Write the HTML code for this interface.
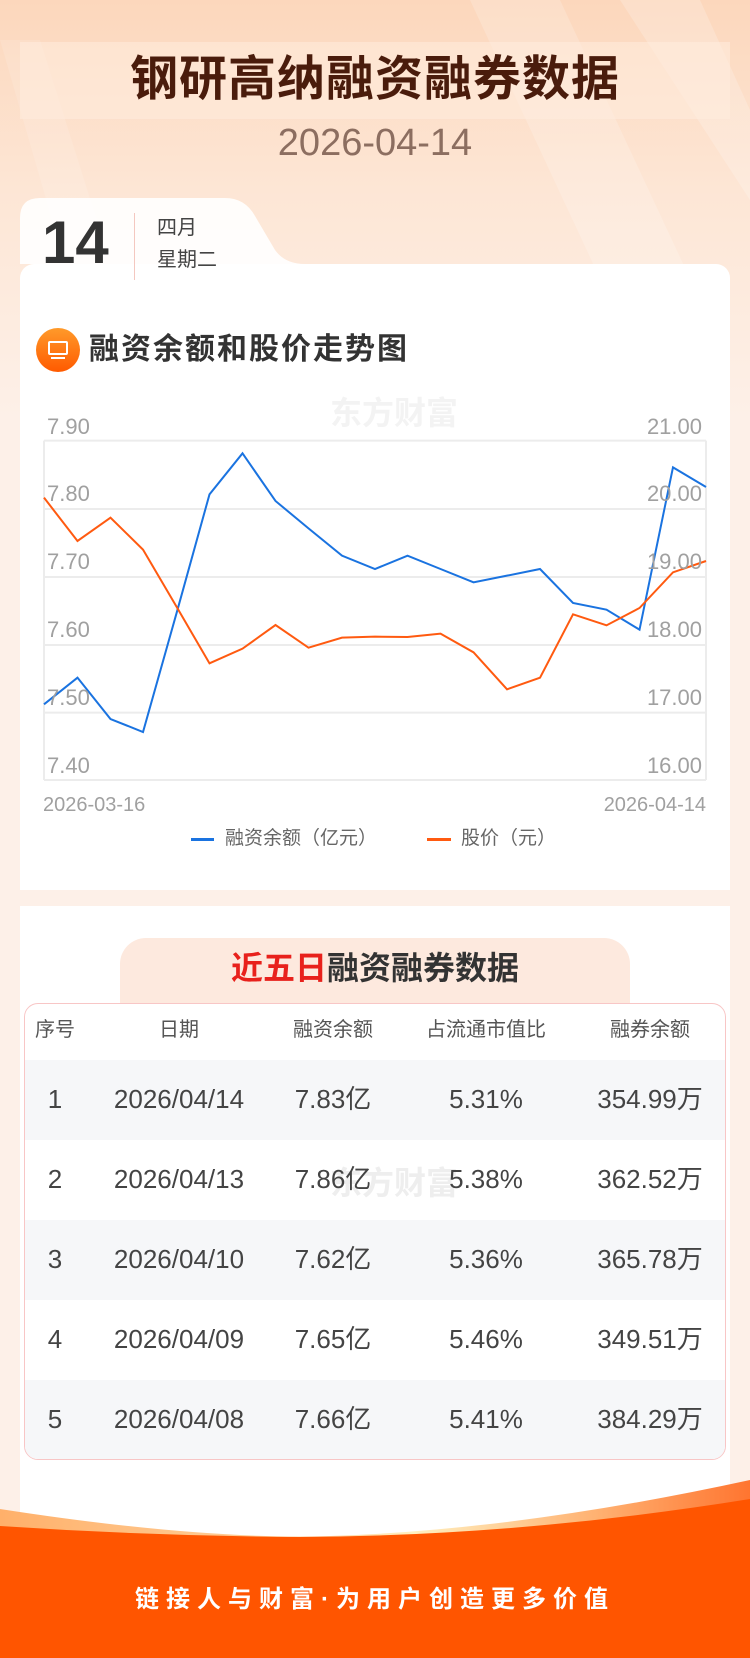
<!DOCTYPE html>
<html><head><meta charset="utf-8">
<style>
*{margin:0;padding:0;box-sizing:border-box}
body{width:750px;height:1658px;position:relative;overflow:hidden;font-family:"Liberation Sans","Noto Sans CJK SC",sans-serif;background:#fdf0e8}
.abs{position:absolute}
.lbl{position:absolute;font-size:22px;color:#a0a0a0;line-height:24px}
.cell{position:absolute;text-align:center;line-height:80px;font-size:26px;color:#444}
</style></head><body>
<div class="abs" style="left:0;top:0;width:750px;height:420px;background:linear-gradient(180deg,#fcd7bc 0%,#fde6d5 45%,#fdf0e8 100%)"></div>
<svg class="abs" style="left:0;top:0" width="750" height="420">
<polygon points="0,40 40,40 160,420 110,420" fill="#fff" opacity="0.12"/>
<polygon points="470,0 560,0 700,300 610,300" fill="#fff" opacity="0.18"/>
<polygon points="620,0 700,0 750,110 750,200" fill="#fff" opacity="0.2"/>
</svg>
<div class="abs" style="left:20px;top:42px;width:710px;height:77px;background:rgba(255,236,222,0.55)"></div>
<div class="abs" style="left:0;top:51px;width:750px;text-align:center;font-size:48px;font-weight:bold;color:#4a1c0c;line-height:58px;letter-spacing:1px">钢研高纳融资融券数据</div>
<div class="abs" style="left:0;top:121px;width:750px;text-align:center;font-size:38px;color:#8c6e60;line-height:44px">2026-04-14</div>
<svg class="abs" style="left:20px;top:198px" width="710" height="70">
<path d="M0,66 L0,20 Q0,0 20,0 L205,0 Q225,0 235,18 L255,52 Q265,66 285,66 Z" fill="#fff" opacity="0.9"/>
</svg>
<div class="abs" style="left:20px;top:264px;width:710px;height:626px;background:#fff;border-radius:14px 14px 0 0"></div>
<div class="abs" style="left:42px;top:210px;font-size:60px;font-weight:bold;color:#333;line-height:66px">14</div>
<div class="abs" style="left:134px;top:213px;width:1px;height:67px;background:#f4c8c0"></div>
<div class="abs" style="left:157px;top:216px;font-size:20px;color:#444;line-height:24px">四月</div>
<div class="abs" style="left:157px;top:248px;font-size:20px;color:#444;line-height:24px">星期二</div>
<div class="abs" style="left:36px;top:328px;width:44px;height:44px;border-radius:50%;background:linear-gradient(180deg,#ff9a2a,#ff5a00)"></div>
<div class="abs" style="left:48px;top:341px;width:20px;height:14px;border:2px solid #fff;border-radius:2px"></div>
<div class="abs" style="left:51px;top:357px;width:14px;height:2px;background:#fff"></div>
<div class="abs" style="left:89px;top:331px;font-size:30px;font-weight:bold;color:#333;line-height:38px;letter-spacing:2px">融资余额和股价走势图</div>
<div class="abs" style="left:330px;top:395px;font-size:32px;font-weight:bold;color:#f3f3f3;line-height:36px">东方财富</div>
<svg class="abs" style="left:0;top:380px" width="750" height="480" viewBox="0 0 1568 1440" preserveAspectRatio="none">
<g stroke="#ececec" stroke-width="2" fill="none">
<line x1="92" y1="182" x2="1476" y2="182" vector-effect="non-scaling-stroke"/>
<line x1="92" y1="387" x2="1476" y2="387" vector-effect="non-scaling-stroke"/>
<line x1="92" y1="591" x2="1476" y2="591" vector-effect="non-scaling-stroke"/>
<line x1="92" y1="795" x2="1476" y2="795" vector-effect="non-scaling-stroke"/>
<line x1="92" y1="998" x2="1476" y2="998" vector-effect="non-scaling-stroke"/>
<line x1="92" y1="1200" x2="1476" y2="1200" vector-effect="non-scaling-stroke"/>
<line x1="92" y1="182" x2="92" y2="1200" vector-effect="non-scaling-stroke"/>
<line x1="1476" y1="182" x2="1476" y2="1200" vector-effect="non-scaling-stroke"/>
</g>
<polyline fill="none" stroke="#1a73e0" stroke-width="2" vector-effect="non-scaling-stroke" points="92,973 162,893 231,1017 299,1056 369,700 438,343 507,220 576,363 645,445 715,527 784,567 852,527 921,567 990,607 1060,587 1129,567 1198,669 1268,689 1337,749 1407,262 1476,321"/>
<polyline fill="none" stroke="#ff5a10" stroke-width="2" vector-effect="non-scaling-stroke" points="92,353 162,483 231,413 299,509 369,680 438,850 507,806 576,735 645,803 715,773 784,770 852,771 921,761 990,817 1060,928 1129,893 1198,703 1268,736 1337,684 1407,577 1476,543"/>
</svg>
<div class="lbl" style="left:47px;top:415px">7.90</div>
<div class="lbl" style="left:47px;top:482px">7.80</div>
<div class="lbl" style="left:47px;top:550px">7.70</div>
<div class="lbl" style="left:47px;top:618px">7.60</div>
<div class="lbl" style="left:47px;top:686px">7.50</div>
<div class="lbl" style="left:47px;top:754px">7.40</div>
<div class="lbl" style="left:602px;width:100px;text-align:right;top:415px">21.00</div>
<div class="lbl" style="left:602px;width:100px;text-align:right;top:482px">20.00</div>
<div class="lbl" style="left:602px;width:100px;text-align:right;top:550px">19.00</div>
<div class="lbl" style="left:602px;width:100px;text-align:right;top:618px">18.00</div>
<div class="lbl" style="left:602px;width:100px;text-align:right;top:686px">17.00</div>
<div class="lbl" style="left:602px;width:100px;text-align:right;top:754px">16.00</div>
<div class="lbl" style="left:43px;top:793px;font-size:20px">2026-03-16</div>
<div class="lbl" style="left:546px;width:160px;text-align:right;top:793px;font-size:20px">2026-04-14</div>
<div class="abs" style="left:191px;top:838px;width:23px;height:3px;background:#1a73e0"></div>
<div class="abs" style="left:225px;top:827px;font-size:19px;color:#666;line-height:24px">融资余额（亿元）</div>
<div class="abs" style="left:427px;top:838px;width:24px;height:3px;background:#ff5a10"></div>
<div class="abs" style="left:461px;top:827px;font-size:19px;color:#666;line-height:24px">股价（元）</div>
<div class="abs" style="left:20px;top:906px;width:710px;height:640px;background:#fff"></div>
<div class="abs" style="left:120px;top:938px;width:510px;height:70px;background:#fde9de;border-radius:26px 26px 0 0"></div>
<div class="abs" style="left:0;top:948px;width:750px;text-align:center;font-size:32px;font-weight:bold;line-height:40px;color:#333"><span style="color:#e8211c">近五日</span>融资融券数据</div>
<div class="abs" style="left:24px;top:1003px;width:702px;height:457px;border:1px solid #f8c6c6;border-radius:14px;background:#fff;overflow:hidden">
 <div class="abs" style="left:0;top:56px;width:702px;height:80px;background:#f6f7f9"></div>
 <div class="abs" style="left:0;top:216px;width:702px;height:80px;background:#f6f7f9"></div>
 <div class="abs" style="left:0;top:376px;width:702px;height:80px;background:#f6f7f9"></div>
</div>
<div class="abs" style="left:330px;top:1165px;font-size:32px;font-weight:bold;color:#eeeeee;line-height:36px">东方财富</div>
<div class="cell" style="left:15px;width:80px;top:990px;font-size:20px;color:#555">序号</div>
<div class="cell" style="left:99px;width:160px;top:990px;font-size:20px;color:#555">日期</div>
<div class="cell" style="left:253px;width:160px;top:990px;font-size:20px;color:#555">融资余额</div>
<div class="cell" style="left:386px;width:200px;top:990px;font-size:20px;color:#555">占流通市值比</div>
<div class="cell" style="left:570px;width:160px;top:990px;font-size:20px;color:#555">融券余额</div>

<div class="cell" style="left:15px;width:80px;top:1059px">1</div><div class="cell" style="left:89px;width:180px;top:1059px">2026/04/14</div><div class="cell" style="left:253px;width:160px;top:1059px">7.83亿</div><div class="cell" style="left:406px;width:160px;top:1059px">5.31%</div><div class="cell" style="left:560px;width:180px;top:1059px">354.99万</div>
<div class="cell" style="left:15px;width:80px;top:1139px">2</div><div class="cell" style="left:89px;width:180px;top:1139px">2026/04/13</div><div class="cell" style="left:253px;width:160px;top:1139px">7.86亿</div><div class="cell" style="left:406px;width:160px;top:1139px">5.38%</div><div class="cell" style="left:560px;width:180px;top:1139px">362.52万</div>
<div class="cell" style="left:15px;width:80px;top:1219px">3</div><div class="cell" style="left:89px;width:180px;top:1219px">2026/04/10</div><div class="cell" style="left:253px;width:160px;top:1219px">7.62亿</div><div class="cell" style="left:406px;width:160px;top:1219px">5.36%</div><div class="cell" style="left:560px;width:180px;top:1219px">365.78万</div>
<div class="cell" style="left:15px;width:80px;top:1299px">4</div><div class="cell" style="left:89px;width:180px;top:1299px">2026/04/09</div><div class="cell" style="left:253px;width:160px;top:1299px">7.65亿</div><div class="cell" style="left:406px;width:160px;top:1299px">5.46%</div><div class="cell" style="left:560px;width:180px;top:1299px">349.51万</div>
<div class="cell" style="left:15px;width:80px;top:1379px">5</div><div class="cell" style="left:89px;width:180px;top:1379px">2026/04/08</div><div class="cell" style="left:253px;width:160px;top:1379px">7.66亿</div><div class="cell" style="left:406px;width:160px;top:1379px">5.41%</div><div class="cell" style="left:560px;width:180px;top:1379px">384.29万</div>
<svg class="abs" style="left:0;top:1470px" width="750" height="188">
<defs><linearGradient id="g" x1="0" x2="1"><stop offset="0" stop-color="#ffb06a"/><stop offset="0.45" stop-color="#ffd8a6"/><stop offset="0.55" stop-color="#fff0c0"/><stop offset="0.8" stop-color="#ffb070"/><stop offset="1" stop-color="#ff7530"/></linearGradient></defs>
<path d="M0,39 Q200,70 330,66 Q520,60 750,10 L750,188 L0,188 Z" fill="url(#g)"/>
<path d="M0,56 Q150,66 300,67 Q520,66 750,29 L750,188 L0,188 Z" fill="#ff5500"/>
</svg>
<div class="abs" style="left:0;top:1584px;width:750px;text-align:center;font-size:24px;color:#fff;letter-spacing:7px;line-height:32px;font-weight:bold">链接人与财富·为用户创造更多价值</div>
</body></html>
